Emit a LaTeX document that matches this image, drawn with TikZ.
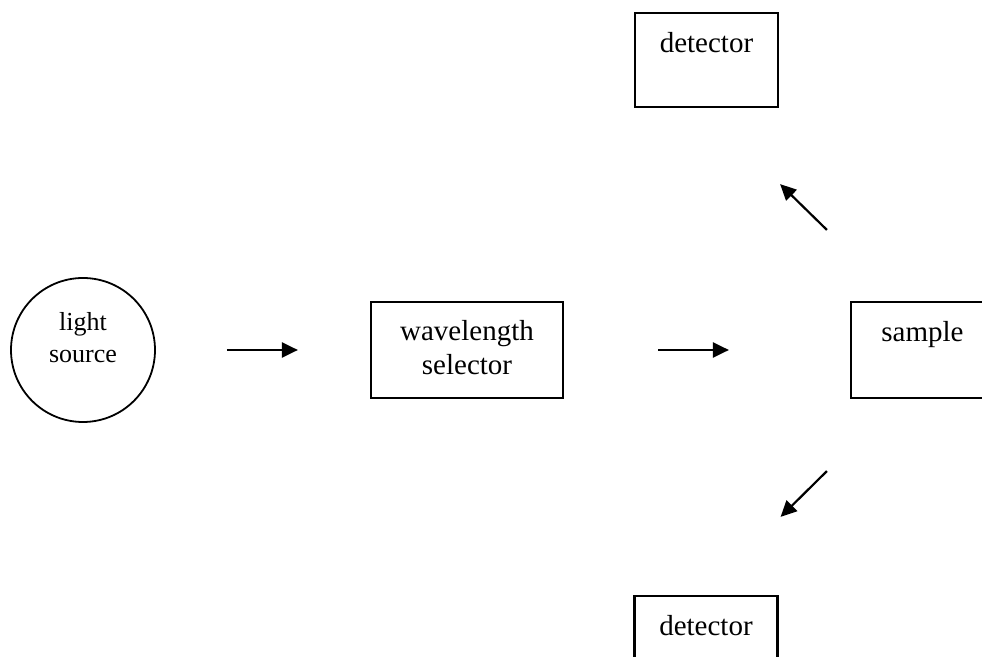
\documentclass[tikz,border=0pt]{standalone}
\usepackage{fontspec}
\setmainfont{Liberation Serif}
\usetikzlibrary{arrows.meta}

\begin{document}
\begin{tikzpicture}[x=0.5pt, y=-0.5pt,
	box/.style = {draw, line width=1.1pt, minimum width=71.5pt, minimum height=47pt, inner sep=0pt},
	boxtext/.style = {anchor=north, inner sep=0pt, align=center,
		font=\fontsize{14.5}{17}\selectfont},
	flow/.style = {line width=1.1pt, -{Triangle[length=8pt, width=7.5pt]}}]
\clip (0, 0) rectangle (982, 657);

\node[draw, circle, line width=0.9pt, minimum size=72pt, inner sep=0pt] (src) at (83, 350) {};
\node[anchor=north, inner sep=0pt, align=center, font=\fontsize{13}{16}\selectfont]
	(srctext) at ([yshift=19pt]src.center) {light\\source};

\node[box, minimum width=96pt, minimum height=48pt] (wls) at (467, 350) {};
\node[boxtext] (wlstext) at ([yshift=-9.4pt]wls.north) {wavelength\\selector};

\node[box, minimum height=48pt] (smp) at (922.5, 350) {};
\node[boxtext] (smptext) at ([yshift=-10pt]smp.north) {sample};

\node[box] (dettop) at (706.5, 60) {};
\node[boxtext] (dettoptext) at ([yshift=-10pt]dettop.north) {detector};

\node[box] (detbot) at (706, 643) {};
\node[boxtext] (detbottext) at ([yshift=-10pt]detbot.north) {detector};

\draw[flow] ([xshift=35.5pt]src.east) -- ([xshift=-36pt]wls.west);
\draw[flow] ([xshift=47pt]wls.east) -- ([xshift=-60.5pt]smp.west);
\draw[flow] ([xshift=-11.5pt, yshift=35.5pt]smp.north west) --
	([xshift=0.5pt, yshift=-38pt]dettop.south east);
\draw[flow] ([xshift=-11.5pt, yshift=-36pt]smp.south west) --
	([xshift=1pt, yshift=39pt]detbot.north east);
\end{tikzpicture}
\end{document}
